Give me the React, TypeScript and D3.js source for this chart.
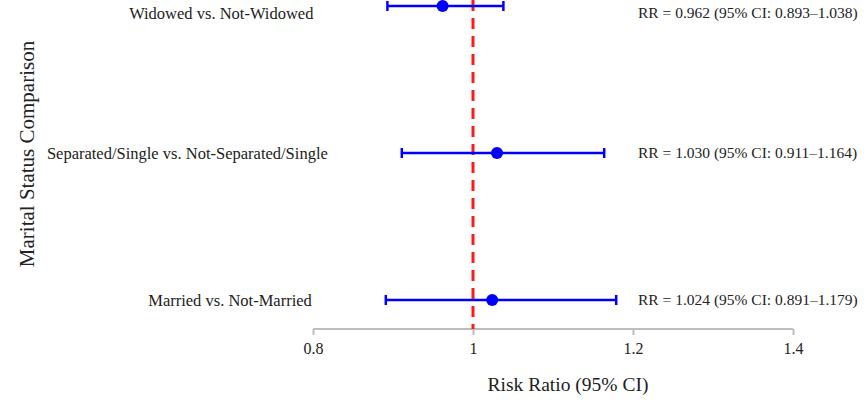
import React, { useRef, useEffect } from "react";
import * as d3 from "d3";

const comparisons = ["Widowed vs. Not-Widowed", "Separated/Single vs. Not-Separated/Single", "Married vs. Not-Married"];
const rr = [0.962, 1.030, 1.024];
const ciLow = [0.893, 0.911, 0.891];
const ciHigh = [1.038, 1.164, 1.179];
const xTicks = [0.8, 1, 1.2, 1.4];

const W = 867;
const H = 405;
const FONT = "'Liberation Serif', 'Times New Roman', serif";

export default function App() {
  const svgRef = useRef<SVGSVGElement>(null);

  useEffect(() => {
    const svg = d3.select(svgRef.current);
    svg.selectAll("*").remove();

    const x = d3.scaleLinear().domain([0.8, 1.4]).range([313, 793]);
    const y = d3.scalePoint<string>().domain(comparisons).range([6, 300]);
    const axisY = 329;
    // labels can't go above the top edge
    const textY = (name: string) => Math.max(y(name)!, 13);

    const rows = comparisons.map((c, i) => ({ name: c, rr: rr[i], lo: ciLow[i], hi: ciHigh[i] }));

    // x axis
    const axis = svg.append("g").attr("transform", `translate(0,${axisY})`)
      .call(d3.axisBottom(x).tickValues(xTicks).tickSize(6).tickPadding(8).tickFormat(d => String(d)));
    axis.select(".domain").attr("stroke", "#bdbdbd").attr("stroke-width", 2).attr("d", `M${x(0.8)},0H${x(1.4)}`);
    axis.selectAll(".tick line").attr("stroke", "#bdbdbd").attr("stroke-width", 2);
    axis.selectAll(".tick text").attr("fill", "#222").style("font-family", FONT).style("font-size", "16px");

    // reference line at 1
    svg.append("line")
      .attr("x1", x(1)).attr("x2", x(1))
      .attr("y1", 0).attr("y2", axisY)
      .attr("stroke", "#ff1a1a").attr("stroke-width", 3)
      .attr("stroke-dasharray", "11,7");

    const g = svg.selectAll("g.row").data(rows).enter().append("g").attr("class", "row");

    g.append("line")
      .attr("x1", d => x(d.lo)).attr("x2", d => x(d.hi))
      .attr("y1", d => y(d.name)!).attr("y2", d => y(d.name)!)
      .attr("stroke", "#0000ff").attr("stroke-width", 2.5);

    [(d: any) => x(d.lo), (d: any) => x(d.hi)].forEach(fx => {
      g.append("line")
        .attr("x1", fx).attr("x2", fx)
        .attr("y1", d => y(d.name)! - 5).attr("y2", d => y(d.name)! + 5)
        .attr("stroke", "#0000ff").attr("stroke-width", 2.5);
    });

    g.append("circle")
      .attr("cx", d => x(d.rr)).attr("cy", d => y(d.name)!)
      .attr("r", 6).attr("fill", "#0000ff");

    g.append("text")
      .attr("x", d => x(d.lo) - 74).attr("y", d => textY(d.name))
      .attr("dy", "0.35em").attr("text-anchor", "end")
      .style("font-family", FONT).style("font-size", "16.5px").attr("fill", "#222")
      .text(d => d.name);

    g.append("text")
      .attr("x", 638).attr("y", d => textY(d.name))
      .attr("dy", "0.35em")
      .style("font-family", FONT).style("font-size", "15.5px").attr("fill", "#222")
      .text(d => `RR = ${d.rr.toFixed(3)} (95% CI: ${d.lo.toFixed(3)}–${d.hi.toFixed(3)})`);

    // axis titles
    svg.append("text")
      .attr("x", 568).attr("y", 384).attr("dy", "0.35em").attr("text-anchor", "middle")
      .style("font-family", FONT).style("font-size", "19.5px").attr("fill", "#222")
      .text("Risk Ratio (95% CI)");

    svg.append("text")
      .attr("transform", "translate(27,154) rotate(-90)")
      .attr("dy", "0.35em").attr("text-anchor", "middle")
      .style("font-family", FONT).style("font-size", "21px").attr("fill", "#222")
      .text("Marital Status Comparison");
  }, []);

  return (
    <svg ref={svgRef} width={W} height={H}
      style={{ position: "absolute", left: 0, top: 0, background: "#fff" }} />
  );
}
